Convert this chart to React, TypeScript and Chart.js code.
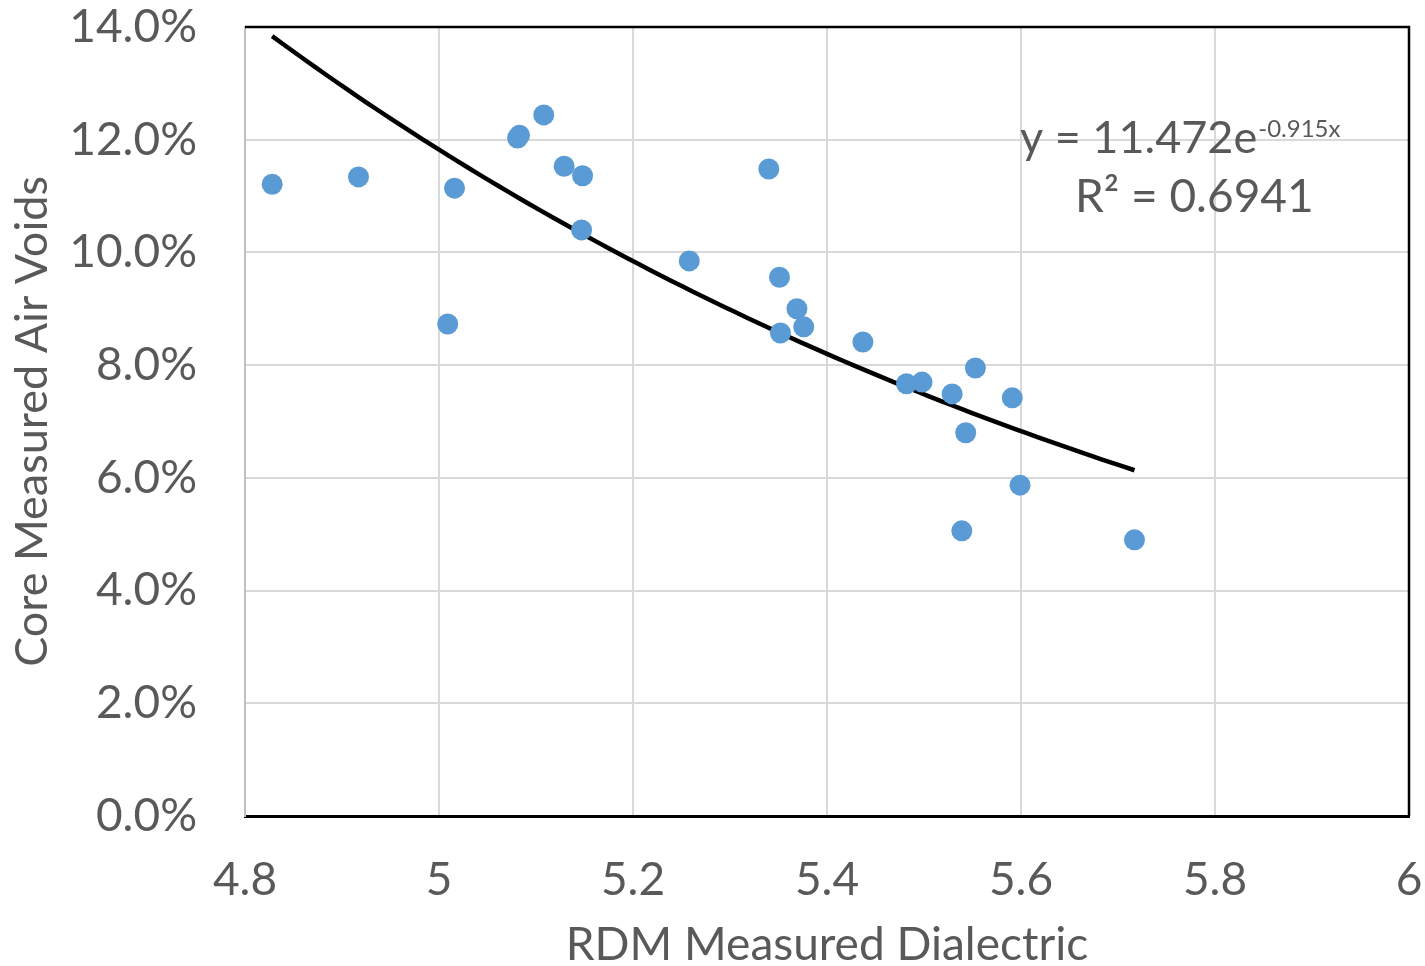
import React, { useEffect, useRef } from "react";
import { Chart, registerables } from "chart.js";

Chart.register(...registerables);

// RDM measured dielectric (x) vs. core measured air voids in % (y)
const dielectric = [
  4.828, 4.917, 5.016, 5.009, 5.081, 5.083, 5.108, 5.129, 5.148, 5.147, 5.258,
  5.34, 5.351, 5.369, 5.376, 5.352, 5.437, 5.482, 5.498, 5.553, 5.529, 5.591,
  5.543, 5.599, 5.539, 5.717,
];
const airVoids = [
  11.21, 11.34, 11.14, 8.73, 12.03, 12.08, 12.44, 11.53, 11.36, 10.4, 9.85,
  11.48, 9.56, 9.0, 8.68, 8.57, 8.41, 7.67, 7.7, 7.95, 7.49, 7.42, 6.8, 5.87,
  5.06, 4.9,
];

// Exponential trendline shown on the chart: y = 11.472 e^(-0.915x)
const trendA = 11.472;
const trendB = -0.915;
const trendLabel = "y = 11.472e";
const trendExpLabel = "-0.915x";
const r2Label = "R² = 0.6941";

const xTicks = [4.8, 5, 5.2, 5.4, 5.6, 5.8, 6];
const yTicks = [0, 2, 4, 6, 8, 10, 12, 14];

const xTitle = "RDM Measured Dialectric";
const yTitle = "Core Measured Air Voids";

const FONT = "Lato, 'Open Sans', sans-serif";
const TEXT = "#595959";

export default function App() {
  const ref = useRef<HTMLCanvasElement | null>(null);

  useEffect(() => {
    if (!ref.current) return;
    const xMin = Math.min(...dielectric);
    const xMax = Math.max(...dielectric);
    const steps = 80;
    const trend: { x: number; y: number }[] = [];
    for (let i = 0; i <= steps; i++) {
      const x = xMin + ((xMax - xMin) * i) / steps;
      trend.push({ x, y: trendA * Math.exp(trendB * x) * 100 });
    }
    const points = dielectric.map((x, i) => ({ x, y: airVoids[i] }));

    const noPad = (s: any) => {
      s.paddingTop = 0;
      s.paddingBottom = 0;
      s.paddingLeft = 0;
      s.paddingRight = 0;
    };

    const borderPlugin = {
      id: "plotBorder",
      beforeDatasetsDraw(chart: any) {
        const { ctx, chartArea: a } = chart;
        ctx.save();
        ctx.strokeStyle = "#000000";
        ctx.lineWidth = 2.5;
        ctx.beginPath();
        ctx.moveTo(a.left, a.top);
        ctx.lineTo(a.right, a.top);
        ctx.lineTo(a.right, a.bottom);
        ctx.stroke();
        ctx.restore();
      },
      afterDraw(chart: any) {
        const { ctx } = chart;
        ctx.save();
        ctx.fillStyle = TEXT;
        ctx.textBaseline = "alphabetic";
        ctx.textAlign = "left";
        ctx.font = `45px ${FONT}`;
        const x0 = 1020;
        ctx.fillText(trendLabel, x0, 153);
        const w = ctx.measureText(trendLabel).width;
        ctx.font = `24px ${FONT}`;
        ctx.fillText(trendExpLabel, x0 + w + 1, 137);
        ctx.font = `46px ${FONT}`;
        ctx.fillText(r2Label, 1075, 212);
        ctx.restore();
      },
    };

    const chart = new Chart(ref.current, {
      type: "scatter",
      data: {
        datasets: [
          {
            label: "Air Voids",
            data: points,
            backgroundColor: "#5B9BD5",
            borderWidth: 0,
            pointRadius: 10.5,
            pointHoverRadius: 10.5,
          },
          {
            label: "Expon. trend",
            data: trend,
            showLine: true,
            borderColor: "#000000",
            borderWidth: 4.5,
            pointRadius: 0,
            fill: false,
            tension: 0,
          } as any,
        ],
      },
      options: {
        responsive: false,
        animation: false,
        layout: { padding: { top: 27, right: 16, left: 0, bottom: 0 } },
        plugins: {
          legend: { display: false },
          tooltip: { enabled: false },
        },
        scales: {
          x: {
            type: "linear",
            min: 4.8,
            max: 6,
            afterBuildTicks: (s: any) => {
              s.ticks = xTicks.map((v) => ({ value: v }));
            },
            afterFit: (s: any) => {
              s.height = 150;
              noPad(s);
            },
            grid: {
              color: "#D9D9D9",
              lineWidth: 2,
              drawTicks: false,
            },
            border: { color: "#000000", width: 3 },
            ticks: {
              color: TEXT,
              font: { family: FONT, size: 46 },
              padding: 37,
              maxRotation: 0,
              callback: (v: any) => String(Number(Number(v).toFixed(1))),
            },
            title: {
              display: true,
              text: xTitle,
              color: TEXT,
              font: { family: FONT, size: 46, lineHeight: 0.9 },
              padding: { top: 0, bottom: 0 },
            },
          },
          y: {
            type: "linear",
            min: 0,
            max: 14,
            afterBuildTicks: (s: any) => {
              s.ticks = yTicks.map((v) => ({ value: v }));
            },
            afterFit: (s: any) => {
              s.width = 245;
              noPad(s);
            },
            grid: {
              color: "#D9D9D9",
              lineWidth: 2,
              drawTicks: false,
            },
            border: { color: "#BFBFBF", width: 2 },
            ticks: {
              color: TEXT,
              font: { family: FONT, size: 46 },
              padding: 48,
              callback: (v: any) => Number(v).toFixed(1) + "%",
            },
            title: {
              display: true,
              text: yTitle,
              color: TEXT,
              font: { family: FONT, size: 45 },
              padding: { top: 5, bottom: 0 },
            },
          },
        },
      },
      plugins: [borderPlugin],
    });
    return () => chart.destroy();
  }, []);

  return (
    <canvas
      ref={ref}
      width={1425}
      height={966}
      style={{ position: "absolute", left: 0, top: 0, display: "block", width: 1425, height: 966 }}
    />
  );
}
